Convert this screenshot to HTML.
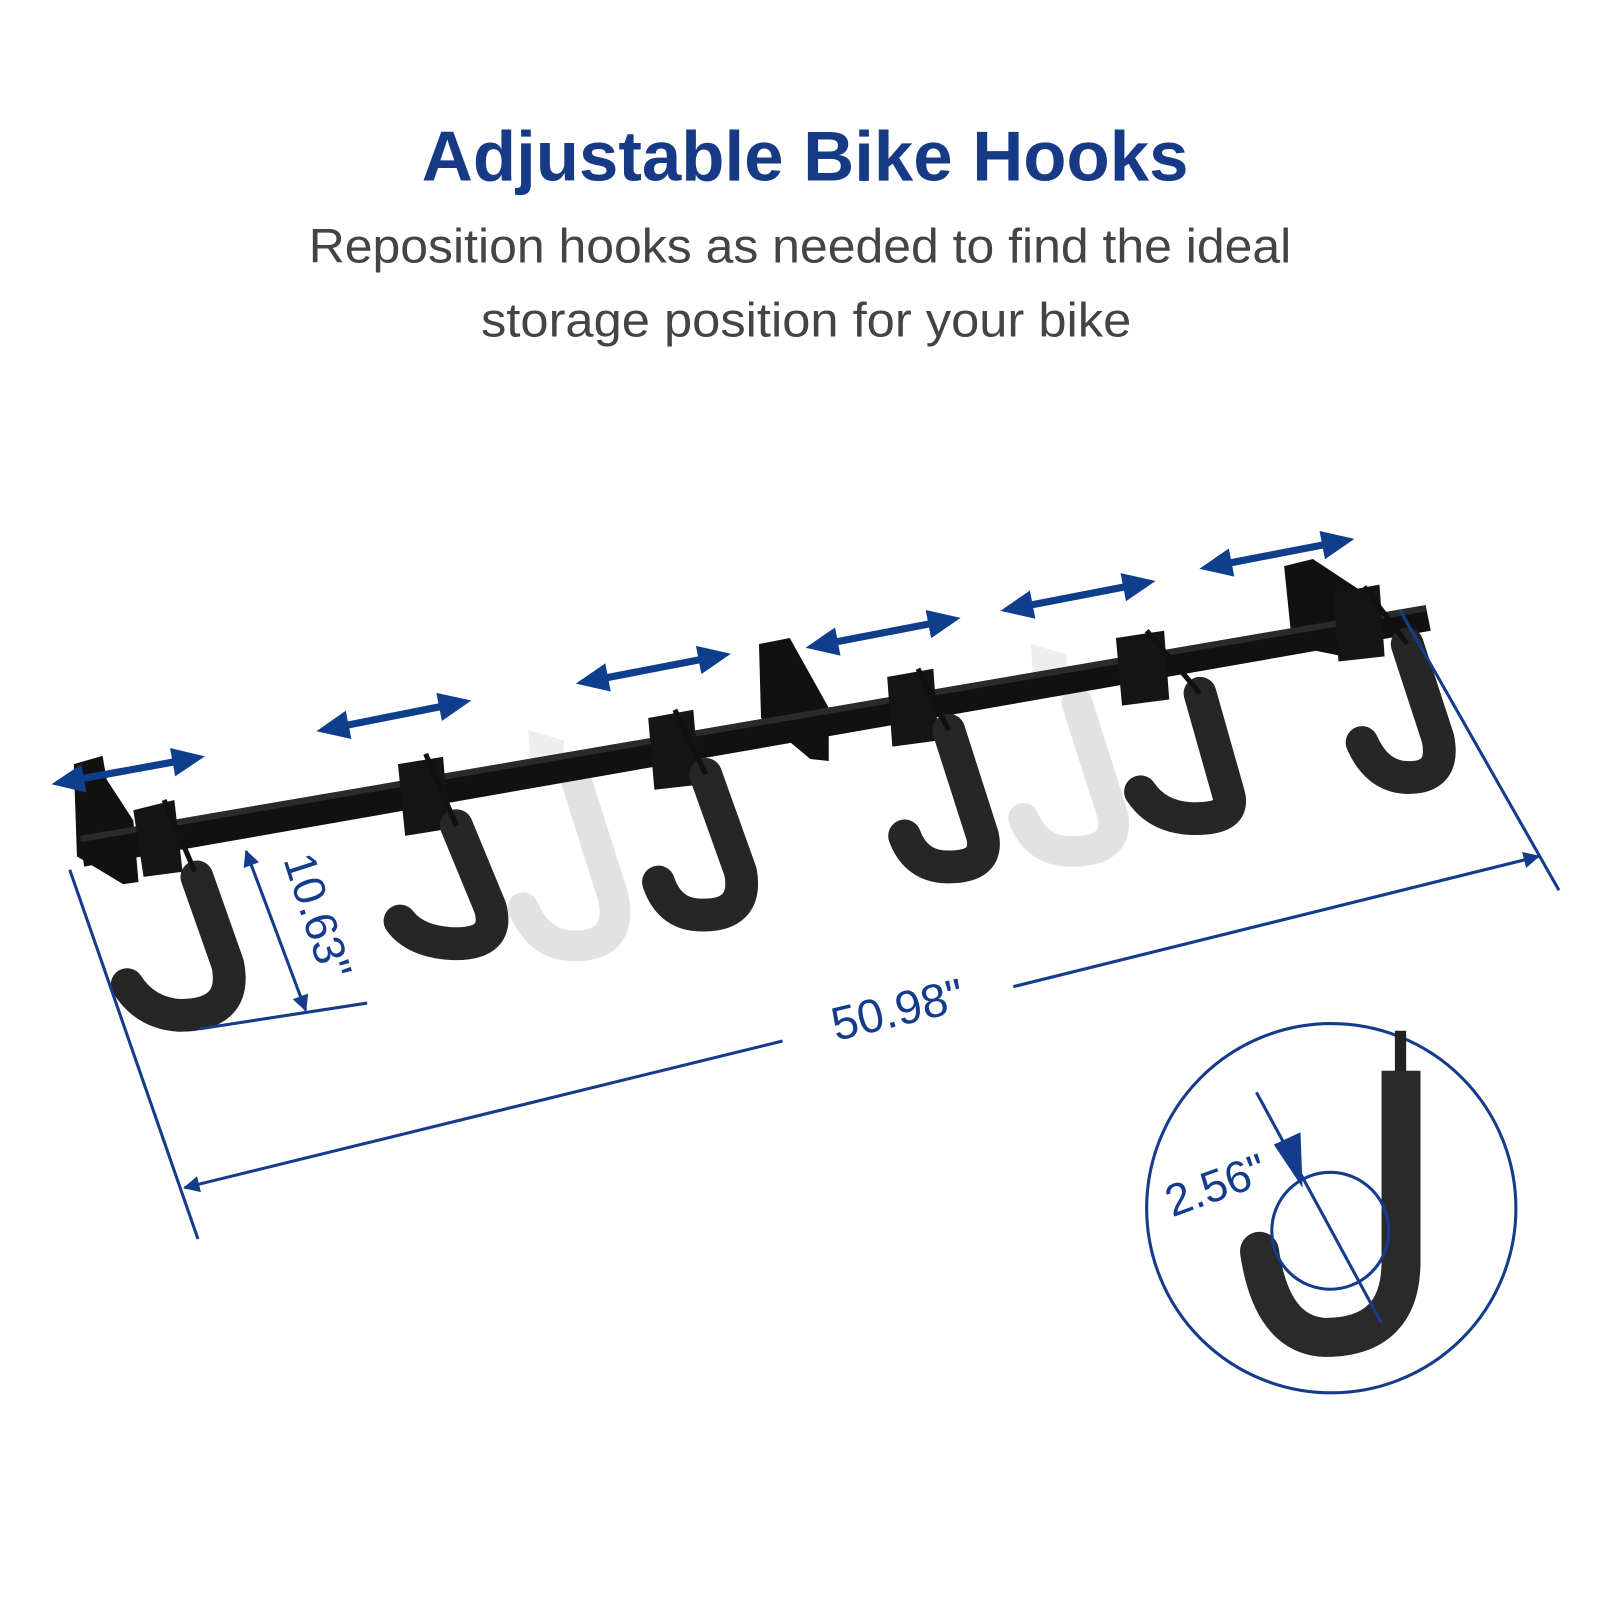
<!DOCTYPE html>
<html><head><meta charset="utf-8"><style>
html,body{margin:0;padding:0;background:#fff;}
body{width:1600px;height:1600px;overflow:hidden;position:relative;}
svg{position:absolute;left:0;top:0;}
</style></head><body>
<svg width="1600" height="1600" viewBox="0 0 1560 1560" xmlns="http://www.w3.org/2000/svg">
<defs>
<marker id="ah" viewBox="0 0 10 10" refX="9" refY="5" markerWidth="26" markerHeight="16" orient="auto-start-reverse" markerUnits="userSpaceOnUse"><path d="M0 0L10 5L0 10z" fill="#143c8a"/></marker>
</defs>
<text x="785" y="176" text-anchor="middle" font-family="Liberation Sans, sans-serif" font-weight="bold" font-size="69" fill="#173a86">Adjustable Bike Hooks</text>
<text x="780" y="256" text-anchor="middle" font-family="Liberation Sans, sans-serif" font-size="47" fill="#444" textLength="958" lengthAdjust="spacingAndGlyphs">Reposition hooks as needed to find the ideal</text>
<text x="786" y="328" text-anchor="middle" font-family="Liberation Sans, sans-serif" font-size="47" fill="#444" textLength="634" lengthAdjust="spacingAndGlyphs">storage position for your bike</text>

<!-- ghost hooks -->
<g fill="none" stroke="#e2e2e2" stroke-width="30" stroke-linecap="round">
<path d="M560 755 L598 875 Q608 925 555 922 Q525 920 510 885"/>
<path d="M1050 685 L1085 795 Q1092 832 1040 830 Q1010 828 998 798"/>
</g>
<path d="M515 712 L550 722 L548 760 L518 752z" fill="#eee"/>
<path d="M1005 628 L1040 638 L1038 680 L1008 672z" fill="#eee"/>

<!-- wall brackets -->
<path d="M72 745 L100 737 L104 760 L130 800 L135 860 L120 862 L75 835z" fill="#111"/>
<path d="M740 628 L770 622 L808 690 L808 742 L790 740 L742 700z" fill="#111"/>
<path d="M1252 552 L1280 545 L1330 578 L1350 600 L1310 640 L1260 630z" fill="#111"/>
<!-- rail -->
<path d="M78 815 L1390 590 L1395 615 L82 845z" fill="#111"/>
<path d="M78 815 L1390 590 L1391 596 L79 821z" fill="#2a2a2a"/>
<!-- hook mounts -->
<g fill="#151515">
<path d="M130 790 L170 780 L178 850 L140 855z"/>
<path d="M388 745 L432 738 L438 808 L395 815z"/>
<path d="M632 700 L676 692 L682 765 L638 770z"/>
<path d="M865 660 L910 652 L915 722 L870 728z"/>
<path d="M1088 622 L1135 615 L1140 682 L1094 688z"/>
<path d="M1300 578 L1345 570 L1350 640 L1305 645z"/>
</g>
<!-- hooks -->
<g fill="none" stroke="#262626" stroke-width="32" stroke-linecap="round">
<path d="M192 855 L222 940 Q232 990 175 990 Q142 988 124 960"/>
<path d="M445 805 L478 885 Q488 922 440 920 Q405 918 390 898"/>
<path d="M688 755 L722 850 Q730 895 680 892 Q652 890 642 860"/>
<path d="M925 712 L958 815 Q965 848 918 845 Q892 842 882 815"/>
<path d="M1170 676 L1198 775 Q1205 800 1160 798 Q1128 796 1112 772"/>
<path d="M1372 628 L1402 720 Q1410 760 1370 758 Q1342 756 1328 724"/>
</g>
<g stroke="#111" stroke-width="5">
<line x1="160" y1="780" x2="190" y2="850"/><line x1="415" y1="735" x2="445" y2="805"/>
<line x1="658" y1="692" x2="688" y2="755"/><line x1="895" y1="652" x2="925" y2="712"/>
<line x1="1118" y1="615" x2="1170" y2="676"/><line x1="1330" y1="572" x2="1372" y2="628"/>
</g>

<!-- double arrows -->
<g fill="#0e3e8c">
<g transform="translate(125 751) rotate(-10.3)"><rect x="-50" y="-3.5" width="100" height="7"/><path d="M-76 0L-44 -14L-44 14z M76 0L44 -14L44 14z"/></g>
<g transform="translate(384 698) rotate(-11.2)"><rect x="-50" y="-3.5" width="100" height="7"/><path d="M-77 0L-45 -14L-45 14z M77 0L45 -14L45 14z"/></g>
<g transform="translate(637 652) rotate(-10.9)"><rect x="-50" y="-3.5" width="100" height="7"/><path d="M-77 0L-45 -14L-45 14z M77 0L45 -14L45 14z"/></g>
<g transform="translate(861 617) rotate(-10.9)"><rect x="-50" y="-3.5" width="100" height="7"/><path d="M-77 0L-45 -14L-45 14z M77 0L45 -14L45 14z"/></g>
<g transform="translate(1051 581) rotate(-10.9)"><rect x="-50" y="-3.5" width="100" height="7"/><path d="M-77 0L-45 -14L-45 14z M77 0L45 -14L45 14z"/></g>
<g transform="translate(1245 540) rotate(-10.9)"><rect x="-50" y="-3.5" width="100" height="7"/><path d="M-77 0L-45 -14L-45 14z M77 0L45 -14L45 14z"/></g>
</g>

<!-- dimension lines -->
<g stroke="#143c8a" stroke-width="3" fill="none">
<line x1="68" y1="848" x2="193" y2="1208"/>
<line x1="1365" y1="595" x2="1520" y2="868"/>
<line x1="763" y1="1015" x2="180" y2="1158" marker-end="url(#ah)"/>
<line x1="988" y1="962" x2="1500" y2="835" marker-end="url(#ah)"/>
<line x1="195" y1="1003" x2="358" y2="978"/>
<line x1="270" y1="910" x2="240" y2="830" marker-end="url(#ah)"/>
<line x1="270" y1="910" x2="298" y2="985" marker-end="url(#ah)"/>
<circle cx="1298" cy="1178" r="180"/>
</g>
<g fill="#143c8a" font-family="Liberation Sans, sans-serif">
<text transform="translate(815 1015) rotate(-13.5)" font-size="46">50.98"</text>
<text transform="translate(276 838) rotate(72)" font-size="44">10.63"</text>
<text transform="translate(1143 1187) rotate(-20)" font-size="44">2.56"</text>
</g>
<!-- detail hook -->
<rect x="1360" y="1005" width="11" height="45" fill="#222"/>
<path d="M1366 1044 L1366 1230 Q1366 1304 1292 1304 Q1240 1302 1228 1220" fill="none" stroke="#2a2a2a" stroke-width="38" stroke-linecap="butt"/>
<circle cx="1228" cy="1220" r="19" fill="#2a2a2a"/>
<g stroke="#143c8a" stroke-width="3" fill="none">
<circle cx="1297" cy="1200" r="57"/>
<line x1="1225" y1="1065" x2="1347" y2="1290"/>
</g>
<path d="M1270 1158 L1242 1116 L1268 1104z" fill="#143c8a"/>
</svg>
</body></html>
